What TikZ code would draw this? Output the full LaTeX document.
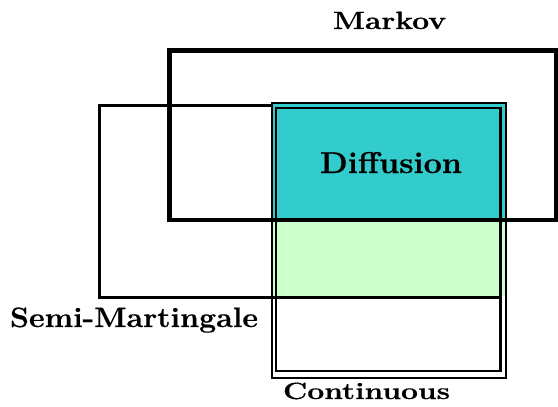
\documentclass[tikz,border=0pt]{standalone}
\usepackage{fontspec}
\setmainfont{Latin Modern Roman}[BoldFeatures={FakeBold=0.6}]
\usepackage{graphicx}
\definecolor{diffcyan}{HTML}{33CCCC}
\definecolor{contgreen}{HTML}{CCFFCC}
% label set in bold serif, stretched to a given width
\newcommand\fitlabel[3]{\resizebox{#1}{\height}{\fontsize{#2}{#2}\selectfont\bfseries #3}}
\begin{document}
\begin{tikzpicture}[x=1pt,y=-1pt,
  setbox/.style={draw=black,line width=#1},
  lbl/.style={anchor=base west,inner sep=0pt,outer sep=0pt}]
\useasboundingbox (0,0) rectangle (558,407);
% Semi-Martingale set
\draw[setbox=3] (99.5,105.5) rectangle (500.5,297.5);
% Continuous set: shaded parts
\fill[diffcyan] (272,102) rectangle (506,220);
\fill[contgreen] (272,220) rectangle (506,296);
% Semi-Martingale boundary running through the continuous set
\draw[line width=3] (272,297.5) -- (500.5,297.5);
% Markov set
\draw[setbox=4.5] (169.5,50.5) rectangle (556,220);
% Continuous set: double frame
\draw[setbox=2.8] (272,103) rectangle (506,378);
\draw[setbox=2.8] (276,108) rectangle (500.5,371);
% labels
\node[lbl] (markov) at (333,29) {\fitlabel{113pt}{25pt}{Markov}};
\node[lbl] (diff) at (320,173) {\fitlabel{142pt}{30pt}{Diffusion}};
\node[lbl] (semi) at (10,327) {\fitlabel{248pt}{28pt}{Semi-Martingale}};
\node[lbl] (cont) at (283,399) {\fitlabel{167pt}{23.5pt}{Continuous}};
\end{tikzpicture}
\end{document}
